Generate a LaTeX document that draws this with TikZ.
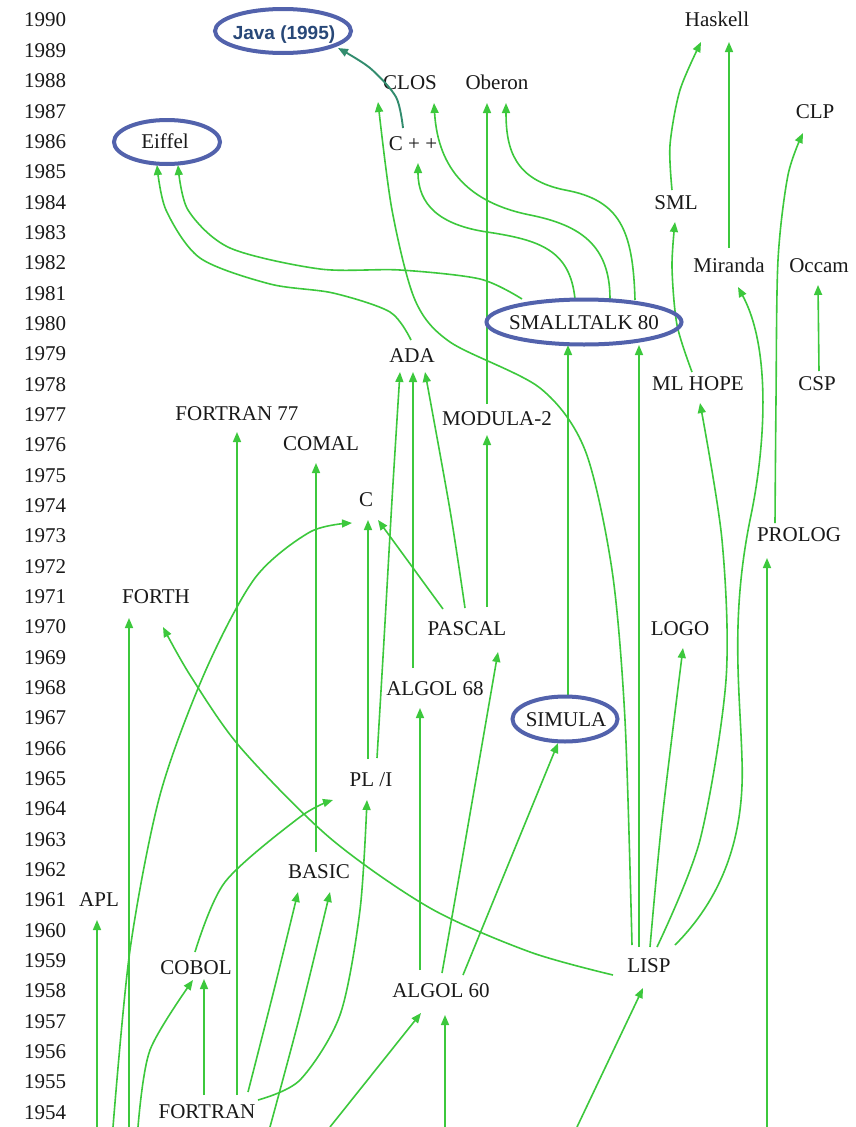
\documentclass[tikz,border=0pt]{standalone}
\usepackage{fontspec}
\setmainfont{Liberation Serif}
\newfontfamily\javafont{Liberation Sans}
\usetikzlibrary{arrows.meta,calc}
\definecolor{linkgreen}{RGB}{60,200,60}
\definecolor{javateal}{RGB}{50,140,110}
\definecolor{ringblue}{RGB}{82,98,172}
\definecolor{javablue}{RGB}{40,72,120}
\definecolor{labelgray}{RGB}{25,25,25}
\begin{document}
\begin{tikzpicture}[x=1pt,y=-1pt,
  lang/.style={font=\fontsize{21}{24}\selectfont, text=labelgray, inner sep=0pt,
               text height=14pt, text depth=0pt},
  link/.style={draw=linkgreen, line width=1.6pt, -{Triangle[length=10pt,width=8pt]}},
  javalink/.style={link, draw=javateal, line width=1.9pt},
  ring/.style={draw=ringblue, line width=4pt}]
\useasboundingbox[fill=white] (0,0) rectangle (855,1127);

% time axis
\foreach \yr in {1990,1989,...,1954}
  \node[lang] (y\yr) at (45,{20+(1990-\yr)*30.333}) {\yr};

% languages
\node[lang, font=\javafont\fontsize{19}{22}\selectfont\bfseries, text=javablue] (java) at (284,32) {Java (1995)};
\node[lang] (haskell)   at (717,20)   {Haskell};
\node[lang] (clos)      at (410,82)   {CLOS};
\node[lang] (oberon)    at (497,82)   {Oberon};
\node[lang] (clp)       at (815,111)  {CLP};
\node[lang] (cpp)       at (413,143)  {C + +};
\node[lang] (eiffel)    at (165,141)  {Eiffel};
\node[lang] (sml)       at (676,202)  {SML};
\node[lang] (miranda)   at (729,265)  {Miranda};
\node[lang] (occam)     at (819,265)  {Occam};
\node[lang] (smalltalk) at (584,322)  {SMALLTALK 80};
\node[lang] (ada)       at (412,355)  {ADA};
\node[lang] (mlhope)    at (698,383)  {ML HOPE};
\node[lang] (csp)       at (817,383)  {CSP};
\node[lang] (fortran77) at (237,413)  {FORTRAN 77};
\node[lang] (modula)    at (497,418)  {MODULA-2};
\node[lang] (comal)     at (321,443)  {COMAL};
\node[lang] (clang)     at (366,499)  {C};
\node[lang] (prolog)    at (799,534)  {PROLOG};
\node[lang] (forth)     at (156,596)  {FORTH};
\node[lang] (pascal)    at (467,628)  {PASCAL};
\node[lang] (logo)      at (680,628)  {LOGO};
\node[lang] (algol68)   at (435,688)  {ALGOL 68};
\node[lang] (simula)    at (566,719)  {SIMULA};
\node[lang] (pli)       at (371,779)  {PL /I};
\node[lang] (basic)     at (319,871)  {BASIC};
\node[lang] (apl)       at (99,899)   {APL};
\node[lang] (cobol)     at (196,967)  {COBOL};
\node[lang] (lisp)      at (649,965)  {LISP};
\node[lang] (algol60)   at (441,990)  {ALGOL 60};
\node[lang] (fortran)   at (207,1111) {FORTRAN};

% ancestors below the lower edge
\coordinate (inAPL)    at (97,1127);
\coordinate (inC)      at (113,1127);
\coordinate (inFORTH)  at (129,1127);
\coordinate (inCOBOL)  at (138,1127);
\coordinate (inBASIC)  at (270,1127);
\coordinate (inALGOLa) at (330,1127);
\coordinate (inALGOLb) at (445,1127);
\coordinate (inLISP)   at (577,1127);
\coordinate (inPROLOG) at (767,1127);

% straight descents
\draw[link] ($(modula)+(-10,-14)$) -- ($(oberon)+(-10,21)$);
\draw[link] ($(miranda)+(0,-17)$) -- ($(haskell)+(12,22)$);
\draw[link] ($(csp)+(2,-12)$) -- ($(occam)+(-1,20)$);
\draw[link] ($(simula)+(2,-23)$) -- ($(smalltalk)+(-16,23)$);
\draw[link] ($(lisp)+(-10,-18)$) -- ($(smalltalk)+(55,23)$);
\draw[link] (inPROLOG) -- ($(prolog)+(-32,24)$);
\draw[link] ($(algol60)+(-21,-20)$) -- ($(algol68)+(-15,20)$);
\draw[link] ($(algol68)+(-22,-20)$) -- ($(ada)+(1,17)$);
\draw[link] ($(pascal)+(20,-21)$) -- ($(modula)+(-10,17)$);
\draw[link] ($(pascal)+(-24,-19)$) -- ($(clang)+(12,21)$);
\draw[link] ($(pli)+(-3,-20)$) -- ($(clang)+(2,21)$);
\draw[link] (inAPL) -- ($(apl)+(-2,21)$);
\draw[link] (inFORTH) -- ($(forth)+(-27,22)$);
\draw[link] ($(fortran)+(30,-16)$) -- ($(fortran77)+(0,19)$);
\draw[link] ($(fortran)+(-3,-16)$) -- ($(cobol)+(8,12)$);
\draw[link] ($(basic)+(-3,-19)$) -- ($(comal)+(-5,20)$);
\draw[link] (inALGOLb) -- ($(algol60)+(4,25)$);
\draw[link] (inALGOLa) -- ($(algol60)+(-20,23)$);
\draw[link] (inLISP) -- ($(lisp)+(-6,23)$);
\draw[link] ($(algol60)+(22,-15)$) -- ($(simula)+(-8,24)$);

% curved descents
\draw[javalink] plot[smooth] coordinates {($(cpp)+(-10,-15)$) (396,97) (370,68) ($(java)+(54,16)$)};
\draw[link] plot[smooth] coordinates {($(ada)+(-1,-15)$) (390,312) (333,293) (270,284) (200,258) (166,210) ($(eiffel)+(-8,24)$)};
\draw[link] plot[smooth] coordinates {($(smalltalk)+(-62,-23)$) (480,279) (400,270) (320,269) (230,248) (188,210) ($(eiffel)+(13,24)$)};
\draw[link] plot[smooth] coordinates {($(lisp)+(-17,-20)$) (625,720) (612,570) (585,450) (540,388) (450,342) (415,300) (392,210) ($(clos)+(-32,20)$)};
\draw[link] ($(smalltalk)+(26,-23)$) .. controls (610,245) and (580,225) .. (530,215)
            .. controls (470,203) and (438,170) .. ($(clos)+(24,21)$);
\draw[link] ($(smalltalk)+(-9,-23)$) .. controls (570,250) and (540,240) .. (487,232)
            .. controls (440,225) and (418,205) .. ($(cpp)+(5,20)$);
\draw[link] ($(smalltalk)+(51,-22)$) .. controls (633,230) and (620,200) .. (565,190)
            .. controls (515,180) and (506,150) .. ($(oberon)+(9,21)$);
\draw[link] plot[smooth] coordinates {($(sml)+(-4,-12)$) (670,145) (680,90) ($(haskell)+(-16,22)$)};
\draw[link] plot[smooth] coordinates {($(mlhope)+(-6,-11)$) (677,325) (672,267) ($(sml)+(-1,20)$)};
\draw[link] plot[smooth] coordinates {($(prolog)+(-24,-11)$) (776,400) (778,260) (788,175) ($(clp)+(-12,22)$)};
\draw[link] ($(lisp)+(26,-20)$) .. controls (720,900) and (745,840) .. (742,760)
            .. controls (740,690) and (730,620) .. (750,520)
            .. controls (765,450) and (772,350) .. ($(miranda)+(9,22)$);
\draw[link] plot[smooth] coordinates {($(lisp)+(8,-18)$) (700,840) (726,680) (722,540) ($(mlhope)+(2,20)$)};
\draw[link] plot[smooth] coordinates {($(lisp)+(1,-18)$) (662,820) ($(logo)+(3,20)$)};
\draw[link] plot[smooth] coordinates {($(pli)+(6,-21)$) (384,640) (392,500) ($(ada)+(-12,17)$)};
\draw[link] plot[smooth] coordinates {($(pascal)+(-2,-20)$) (450,510) ($(ada)+(13,17)$)};
\draw[link] plot[smooth] coordinates {(inC) (130,950) (160,795) (205,672) (255,578) (310,532) ($(clang)+(-14,24)$)};
\draw[link] plot[smooth] coordinates {($(lisp)+(-36,10)$) (530,952) (430,908) (330,838) (240,747) (190,675) ($(forth)+(7,31)$)};
\draw[link] plot[smooth] coordinates {($(cobol)+(-1,-15)$) (225,882) (300,817) ($(pli)+(-38,21)$)};
\draw[link] plot[smooth] coordinates {($(fortran)+(51,-11)$) (300,1080) (340,1015) (360,910) ($(pli)+(-4,21)$)};
\draw[link] plot[smooth] coordinates {($(fortran)+(41,-19)$) (274,990) ($(basic)+(-21,21)$)};
\draw[link] plot[smooth] coordinates {(inBASIC) (300,1015) ($(basic)+(11,21)$)};
\draw[link] plot[smooth] coordinates {(inCOBOL) (150,1050) ($(cobol)+(-3,13)$)};
\draw[link] plot[smooth] coordinates {($(algol60)+(1,-17)$) (462,860) ($(pascal)+(31,24)$)};

% highlighted languages
\draw[ring] ($(java)+(-1,-1)$) ellipse [x radius=68, y radius=22];
\draw[ring] ($(eiffel)+(2,1)$) ellipse [x radius=53, y radius=22];
\draw[ring] (smalltalk.center) ellipse [x radius=97.5, y radius=22.5];
\draw[ring] ($(simula)+(-1,0)$) ellipse [x radius=52.5, y radius=22.5];
\end{tikzpicture}
\end{document}
